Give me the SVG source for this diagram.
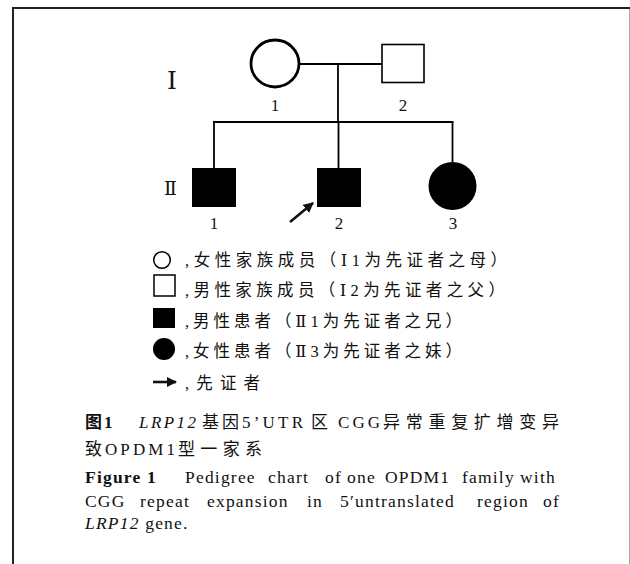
<svg xmlns="http://www.w3.org/2000/svg" width="630" height="564" viewBox="0 0 630 564">
<defs>
<style>
.ln{stroke:#000;stroke-width:1.8;fill:none}
.t{font-family:"Liberation Serif","DejaVu Serif","Noto Sans CJK SC",serif;fill:#111}
.num{font-size:17px;text-anchor:middle}
.lg{font-size:16.5px}
.cap{font-size:17px}
.en{font-size:17.5px;letter-spacing:1.2px}
</style>
<marker id="ah" viewBox="0 0 10 10" refX="9" refY="5" markerWidth="4" markerHeight="4" orient="auto" markerUnits="strokeWidth">
<path d="M0,0 L10,5 L0,10 Z" fill="#111"/>
</marker>
</defs>
<rect width="630" height="564" fill="#fff"/>
<g id="frame">
<line x1="13" y1="8" x2="630" y2="8" stroke="#222" stroke-width="2"/>
<line x1="13" y1="7" x2="13" y2="564" stroke="#222" stroke-width="2"/>
<line x1="629.5" y1="9" x2="629.5" y2="564" stroke="#aaa" stroke-width="1"/>
</g>
<g id="connectors">
<line class="ln" x1="299" y1="64" x2="382" y2="64"/>
<line class="ln" x1="338" y1="64" x2="338" y2="122"/>
<line class="ln" x1="213" y1="122" x2="453.5" y2="122" stroke-width="2"/>
<line class="ln" x1="214" y1="122" x2="214" y2="168"/>
<line class="ln" x1="338.5" y1="122" x2="338.5" y2="168"/>
<line class="ln" x1="452.5" y1="122" x2="452.5" y2="163"/>
</g>
<g id="gen-labels" class="t">
<text x="167" y="89" style="font-size:25px">Ⅰ</text>
<text x="164" y="195" style="font-size:19px">Ⅱ</text>
</g>
<g id="I1">
<ellipse cx="275" cy="63.5" rx="24" ry="23.5" fill="none" stroke="#000" stroke-width="2.8"/>
<text class="t num" x="275" y="111">1</text>
</g>
<g id="I2">
<rect x="382" y="44.5" width="42" height="38" fill="#fff" stroke="#000" stroke-width="1.6"/>
<text class="t num" x="403" y="111">2</text>
</g>
<g id="II1">
<rect x="192" y="168" width="44" height="39" fill="#000"/>
<text class="t num" x="214" y="229">1</text>
</g>
<g id="II2">
<rect x="317" y="168" width="44" height="39" fill="#000"/>
<text class="t num" x="339" y="229">2</text>
<line x1="290" y1="222" x2="313" y2="203" stroke="#111" stroke-width="2.6" marker-end="url(#ah)"/>
</g>
<g id="II3">
<circle cx="452.5" cy="186" r="24" fill="#000"/>
<text class="t num" x="453" y="229">3</text>
</g>
<g id="legend">
<circle cx="162" cy="260" r="8.3" fill="none" stroke="#000" stroke-width="1.5"/>
<text class="t lg" x="185" y="266" textLength="322" lengthAdjust="spacing">,女性家族成员（Ⅰ1为先证者之母）</text>
<rect x="154" y="275" width="21" height="21" fill="none" stroke="#000" stroke-width="1.5"/>
<text class="t lg" x="185" y="296" textLength="320" lengthAdjust="spacing">,男性家族成员（Ⅰ2为先证者之父）</text>
<rect x="153" y="308" width="22" height="20" fill="#000"/>
<text class="t lg" x="185" y="327" textLength="277" lengthAdjust="spacing">,男性患者（Ⅱ1为先证者之兄）</text>
<circle cx="164" cy="349" r="11" fill="#000"/>
<text class="t lg" x="185" y="357" textLength="277" lengthAdjust="spacing">,女性患者（Ⅱ3为先证者之妹）</text>
<line x1="153" y1="382" x2="176" y2="382" stroke="#111" stroke-width="2.6" marker-end="url(#ah)"/>
<text class="t lg" x="185" y="389" textLength="75" lengthAdjust="spacing">,先证者</text>
</g>
<g id="caption" class="t">
<text class="cap" x="85" y="428" style="font-weight:bold">图</text>
<text class="cap" x="104" y="428" style="font-weight:bold">1</text>
<text class="cap" x="139" y="428" style="font-style:italic" textLength="57" lengthAdjust="spacing">LRP12</text>
<text class="cap" x="202" y="428" textLength="37" lengthAdjust="spacing">基因</text>
<text class="cap" x="242" y="428" textLength="61" lengthAdjust="spacing">5’UTR</text>
<text class="cap" x="311" y="428">区</text>
<text class="cap" x="338" y="428" textLength="42" lengthAdjust="spacing">CGG</text>
<text class="cap" x="383" y="428" textLength="176" lengthAdjust="spacing">异常重复扩增变异</text>
<text class="cap" x="85" y="455">致</text>
<text class="cap" x="105" y="455" textLength="70" lengthAdjust="spacing">OPDM1</text>
<text class="cap" x="178" y="455" textLength="84" lengthAdjust="spacing">型一家系</text>
<text class="en" x="85" y="483" style="font-weight:bold">Figure 1</text>
<text class="en" y="483"><tspan x="185">Pedigree</tspan><tspan x="268">chart</tspan><tspan x="325">of</tspan><tspan x="347">one</tspan><tspan x="385">OPDM1</tspan><tspan x="462">family</tspan><tspan x="520">with</tspan></text>
<text class="en" y="507"><tspan x="85">CGG</tspan><tspan x="140">repeat</tspan><tspan x="207">expansion</tspan><tspan x="307">in</tspan><tspan x="340">5′untranslated</tspan><tspan x="477">region</tspan><tspan x="543">of</tspan></text>
<text class="en" x="85" y="529"><tspan style="font-style:italic">LRP12</tspan> gene.</text>
</g>
</svg>
